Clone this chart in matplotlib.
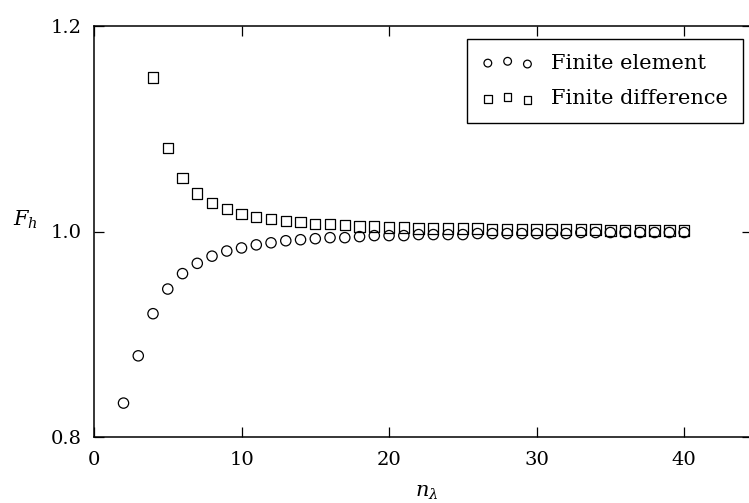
import numpy as np
import matplotlib
matplotlib.use('Agg')
import matplotlib.pyplot as plt

# points per wavelength
N_FE = list(range(2, 41))
N_FD = list(range(4, 41))

# F_h
F_FE = [0.833, 0.879, 0.920, 0.944, 0.959, 0.969, 0.976, 0.981, 0.984, 0.987,
        0.989, 0.991, 0.992, 0.993, 0.994, 0.994, 0.995, 0.996, 0.996, 0.996,
        0.997, 0.997, 0.997, 0.997, 0.998, 0.998, 0.998, 0.998, 0.998, 0.998,
        0.998, 0.999, 0.999, 0.999, 0.999, 0.999, 0.999, 0.999, 0.999]
F_FD = [1.150, 1.081, 1.052, 1.037, 1.028, 1.022, 1.017, 1.014, 1.012, 1.010,
        1.009, 1.007, 1.007, 1.006, 1.005, 1.005, 1.004, 1.004, 1.003, 1.003,
        1.003, 1.003, 1.003, 1.002, 1.002, 1.002, 1.002, 1.002, 1.002, 1.002,
        1.002, 1.001, 1.001, 1.001, 1.001, 1.001, 1.001]

X_TICKS = [0, 10, 20, 30, 40]
Y_TICKS = [0.8, 1.0, 1.2]

plt.rcParams.update({
    'font.family': ['DejaVu Serif'],
    'mathtext.fontset': 'dejavuserif',
    'font.size': 14,
    'axes.linewidth': 1.1,
})

W, H = 749, 503
fig = plt.figure(figsize=(W / 100, H / 100), dpi=100)
ax = fig.add_axes([94 / W, 1 - 437 / H, 658 / W, 411 / H])

ax.scatter(N_FE, F_FE, s=55, marker='o', facecolors='none', edgecolors='black',
           linewidths=0.9, label='Finite element')
ax.scatter(N_FD, F_FD, s=55, marker='s', facecolors='none', edgecolors='black',
           linewidths=0.9, label='Finite difference')

ax.set_xlim(0, 44.6)
ax.set_ylim(0.8, 1.2)
ax.set_xticks(X_TICKS)
ax.set_yticks(Y_TICKS)
ax.set_yticklabels([f'{v:.1f}' for v in Y_TICKS])
ax.tick_params(direction='in', length=7, width=0.9, top=True, right=True)
ax.tick_params(axis='x', pad=10)
ax.tick_params(axis='y', pad=9)

ax.set_xlabel(r'$n_\lambda$', va='center', fontsize=15)
ax.xaxis.set_label_coords(0.506, -0.136)
ax.set_ylabel(r'$F_h$', rotation=0, va='center', ha='center', fontsize=15)
ax.yaxis.set_label_coords(-0.104, 0.528)

leg = ax.legend(loc='upper left', bbox_to_anchor=(467 / W, 1 - 39 / H),
                bbox_transform=fig.transFigure, borderaxespad=0,
                scatterpoints=3, markerscale=0.75, fancybox=False,
                edgecolor='black', framealpha=1, fontsize=15,
                handlelength=2.5, handletextpad=0.85, borderpad=0.7,
                labelspacing=0.8)
leg.get_frame().set_linewidth(1.0)

fig.savefig('out.png', dpi=100)
